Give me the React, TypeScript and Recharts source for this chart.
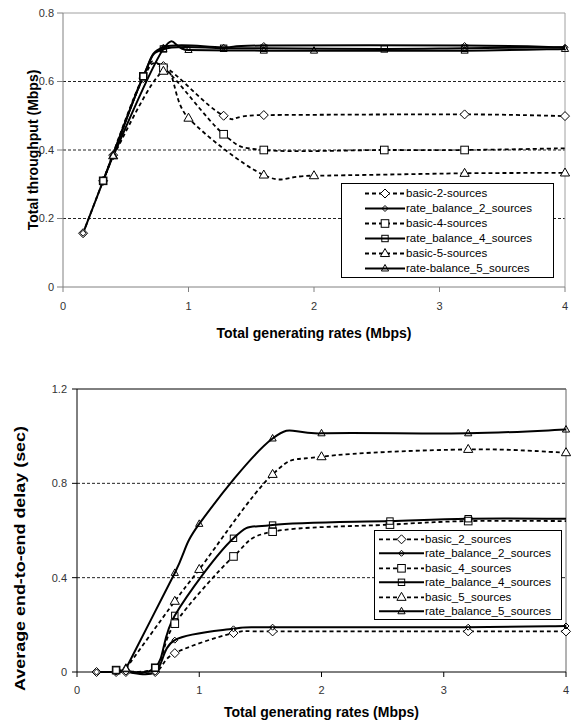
import React from 'react';
import { LineChart, Line, XAxis, YAxis, ReferenceLine, Legend } from 'recharts';

const FONT = '"Liberation Sans", Arial, Helvetica, sans-serif';

// ---------- data ----------
// total generating rates (Mbps) per number of sources
const x2 = [0.16, 0.32, 0.4, 0.64, 0.8, 1.28, 1.6, 3.2, 4.0];
const x4 = [0.32, 0.64, 0.8, 1.28, 1.6, 2.56, 3.2, 4.0];
const x5 = [0.4, 0.8, 1.0, 1.6, 2.0, 3.2, 4.0];

// Total throughput (Mbps)
const thrBasic2 = [0.157, 0.31, 0.385, 0.61, 0.645, 0.5, 0.502, 0.504, 0.499];
const thrRate2 = [0.157, 0.31, 0.385, 0.615, 0.7, 0.7, 0.705, 0.705, 0.7];
const thrBasic4 = [0.31, 0.615, 0.64, 0.446, 0.4, 0.4, 0.4, 0.405];
const thrRate4 = [0.31, 0.615, 0.695, 0.697, 0.697, 0.695, 0.697, 0.7];
const thrBasic5 = [0.383, 0.63, 0.493, 0.327, 0.325, 0.332, 0.333];
const thrRate5 = [0.383, 0.695, 0.692, 0.69, 0.69, 0.69, 0.695];

// Average end-to-end delay (sec)
const dlyBasic2 = [0.0, 0.0, 0.0, 0.0, 0.08, 0.165, 0.172, 0.172, 0.172];
const dlyRate2 = [0.0, 0.0, 0.0, 0.0, 0.135, 0.183, 0.19, 0.19, 0.195];
const dlyBasic4 = [0.008, 0.018, 0.205, 0.49, 0.595, 0.625, 0.64, 0.64];
const dlyRate4 = [0.008, 0.018, 0.24, 0.567, 0.623, 0.64, 0.65, 0.65];
const dlyBasic5 = [0.014, 0.3, 0.435, 0.838, 0.913, 0.944, 0.93];
const dlyRate5 = [0.014, 0.42, 0.628, 0.99, 1.012, 1.012, 1.028];

const xTicks = [0, 1, 2, 3, 4];
const thrTicks = [0, 0.2, 0.4, 0.6, 0.8];
const thrGrid = [0.2, 0.4, 0.6];
const dlyTicks = [0, 0.4, 0.8, 1.2];
const dlyGrid = [0.4, 0.8];

const topNames = [
  'basic-2-sources',
  'rate_balance_2_sources',
  'basic-4-sources',
  'rate_balance_4_sources',
  'basic-5-sources',
  'rate-balance_5_sources',
];
const bottomNames = [
  'basic_2_sources',
  'rate_balance_2_sources',
  'basic_4_sources',
  'rate_balance_4_sources',
  'basic_5_sources',
  'rate_balance_5_sources',
];

type Shape = 'diamond' | 'square' | 'triangle';
interface Series {
  name: string;
  data: { x: number; y: number }[];
  shape: Shape;
  basic: boolean;
  unmarkedLast: boolean;
}

const zip = (xs: number[], ys: number[]) => xs.map((x, i) => ({ x, y: ys[i] }));

const shapes: Shape[] = ['diamond', 'diamond', 'square', 'square', 'triangle', 'triangle'];
const buildSeries = (names: string[], ys: number[][]): Series[] => {
  const xsList = [x2, x2, x4, x4, x5, x5];
  return names.map((name, i) => ({
    name,
    data: zip(xsList[i], ys[i]),
    shape: shapes[i],
    basic: i % 2 === 0,
    unmarkedLast: i === 2 || i === 3,
  }));
};

const topSeries = buildSeries(topNames, [thrBasic2, thrRate2, thrBasic4, thrRate4, thrBasic5, thrRate5]);
const bottomSeries = buildSeries(bottomNames, [dlyBasic2, dlyRate2, dlyBasic4, dlyRate4, dlyBasic5, dlyRate5]);

// ---------- Excel-like smoothing curve (Catmull-Rom as Bezier) ----------
const excelSmooth: any = (context: any) => {
  let pts: [number, number][] = [];
  return {
    areaStart() {},
    areaEnd() {},
    lineStart() {
      pts = [];
    },
    lineEnd() {
      const n = pts.length;
      if (!n) return;
      context.moveTo(pts[0][0], pts[0][1]);
      if (n === 1) {
        context.lineTo(pts[0][0], pts[0][1]);
        return;
      }
      for (let i = 0; i < n - 1; i++) {
        const p0 = pts[i === 0 ? 0 : i - 1];
        const p1 = pts[i];
        const p2 = pts[i + 1];
        const p3 = pts[i + 2 < n ? i + 2 : n - 1];
        context.bezierCurveTo(
          p1[0] + (p2[0] - p0[0]) / 6,
          p1[1] + (p2[1] - p0[1]) / 6,
          p2[0] - (p3[0] - p1[0]) / 6,
          p2[1] - (p3[1] - p1[1]) / 6,
          p2[0],
          p2[1]
        );
      }
    },
    point(x: number, y: number) {
      pts.push([+x, +y]);
    },
  };
};

// ---------- markers ----------
function MarkerShape({ shape, cx, cy, big }: { shape: Shape; cx: number; cy: number; big: boolean }) {
  const fill = big ? '#fff' : 'none';
  const common = { fill, stroke: '#000', strokeWidth: 1 };
  if (shape === 'diamond') {
    const r = big ? 4.5 : 3;
    return <polygon points={`${cx},${cy - r} ${cx + r},${cy} ${cx},${cy + r} ${cx - r},${cy}`} {...common} />;
  }
  if (shape === 'square') {
    const h = big ? 3.8 : 3.2;
    return <rect x={cx - h} y={cy - h} width={2 * h} height={2 * h} {...common} />;
  }
  const w = big ? 4.6 : 3.6;
  const hgt = big ? 8 : 6.5;
  return (
    <polygon
      points={`${cx},${cy - hgt * 0.62} ${cx + w},${cy + hgt * 0.38} ${cx - w},${cy + hgt * 0.38}`}
      {...common}
    />
  );
}

const makeDot = (s: Series) => (props: any) => {
  const { cx, cy, index } = props;
  const key = `dot-${s.name}-${index}`;
  if (cx == null || cy == null || (s.unmarkedLast && index === s.data.length - 1)) {
    return <g key={key} />;
  }
  return (
    <g key={key}>
      <MarkerShape shape={s.shape} cx={cx} cy={cy} big={s.basic} />
    </g>
  );
};

const DASH = '4 3';

// ---------- legend ----------
function LegendBox({
  series,
  width,
  height,
  rowH,
  padTop,
  symLeft,
  symW,
  textGap,
}: {
  series: Series[];
  width: number;
  height: number;
  rowH: number;
  padTop: number;
  symLeft: number;
  symW: number;
  textGap: number;
}) {
  return (
    <div
      style={{
        width,
        height,
        boxSizing: 'border-box',
        border: '1px solid #000',
        background: '#fff',
        paddingTop: padTop,
        fontFamily: FONT,
        fontSize: 11.5,
        color: '#000',
      }}
    >
      {series.map((s) => (
        <div key={s.name} style={{ height: rowH, display: 'flex', alignItems: 'center', whiteSpace: 'nowrap' }}>
          <svg width={symW} height={rowH} style={{ marginLeft: symLeft, marginRight: textGap, flex: 'none' }}>
            <line
              x1={0}
              x2={symW}
              y1={rowH / 2}
              y2={rowH / 2}
              stroke="#000"
              strokeWidth={s.basic ? 1.8 : 2}
              strokeDasharray={s.basic ? DASH : undefined}
            />
            <MarkerShape shape={s.shape} cx={symW / 2} cy={rowH / 2} big={s.basic} />
          </svg>
          <span style={{ lineHeight: `${rowH}px` }}>{s.name}</span>
        </div>
      ))}
    </div>
  );
}

const tickStyle = { fill: '#333', fontSize: 11, fontFamily: FONT };
const titleStyle: React.CSSProperties = { fontFamily: FONT, fontSize: 14, fontWeight: 'bold', fill: '#000' };

function renderLines(series: Series[]) {
  return series.map((s) => (
    <Line
      key={s.name}
      data={s.data}
      dataKey="y"
      name={s.name}
      type={excelSmooth}
      stroke="#000"
      strokeWidth={s.basic ? 1.8 : 2}
      strokeDasharray={s.basic ? DASH : undefined}
      dot={makeDot(s)}
      activeDot={false}
      isAnimationActive={false}
    />
  ));
}

function TopChart() {
  return (
    <LineChart width={573} height={345} margin={{ top: 13, right: 8, bottom: 0, left: 0 }}>
      <XAxis
        type="number"
        dataKey="x"
        domain={[0, 4]}
        ticks={xTicks}
        height={58}
        stroke="#808080"
        tickSize={5}
        tickMargin={10}
        tick={tickStyle}
        label={{
          content: (p: any) => {
            const vb = p.viewBox || {};
            return (
              <text x={vb.x + vb.width / 2} y={vb.y + 51} textAnchor="middle" style={titleStyle}>
                Total generating rates (Mbps)
              </text>
            );
          },
        }}
      />
      <YAxis
        type="number"
        domain={[0, 0.8]}
        ticks={thrTicks}
        width={63}
        stroke="#808080"
        tickSize={6}
        tickMargin={3}
        tick={tickStyle}
        label={{
          content: (p: any) => {
            const vb = p.viewBox || {};
            const cy = vb.y + vb.height / 2;
            return (
              <text x={38} y={cy} transform={`rotate(-90 38 ${cy})`} textAnchor="middle" style={titleStyle}>
                Total throughput (Mbps)
              </text>
            );
          },
        }}
      />
      {thrGrid.map((v) => (
        <ReferenceLine key={v} y={v} stroke="#222" strokeWidth={1} strokeDasharray="3 2" />
      ))}
      <ReferenceLine y={0.8} stroke="#a0a0a0" strokeWidth={1} />
      <ReferenceLine x={4} stroke="#a0a0a0" strokeWidth={1} />
      {renderLines(topSeries)}
      <Legend
        layout="horizontal"
        align="center"
        verticalAlign="middle"
        wrapperStyle={{ left: 341, top: 183, width: 213, height: 95 }}
        content={() => (
          <LegendBox
            series={topSeries}
            width={213}
            height={95}
            rowH={15}
            padTop={2}
            symLeft={23}
            symW={40}
            textGap={1}
          />
        )}
      />
    </LineChart>
  );
}

function BottomChart() {
  return (
    <LineChart width={573} height={377} margin={{ top: 44, right: 7, bottom: 0, left: 0 }}>
      <XAxis
        type="number"
        dataKey="x"
        domain={[0, 4]}
        ticks={xTicks}
        height={50}
        stroke="#000"
        tickSize={5}
        tickMargin={9}
        tick={tickStyle}
        label={{
          content: (p: any) => {
            const vb = p.viewBox || {};
            return (
              <text x={vb.x + vb.width / 2} y={vb.y + 45} textAnchor="middle" style={titleStyle}>
                Total generating rates (Mbps)
              </text>
            );
          },
        }}
      />
      <YAxis
        type="number"
        domain={[0, 1.2]}
        ticks={dlyTicks}
        width={77}
        stroke="#000"
        tickSize={5}
        tickMargin={5}
        tick={tickStyle}
        label={{
          content: (p: any) => {
            const vb = p.viewBox || {};
            const cy = vb.y + vb.height / 2 + 28;
            return (
              <text
                x={0}
                y={0}
                transform={`translate(25 ${cy}) rotate(-90) scale(1.28 1)`}
                textAnchor="middle"
                style={titleStyle}
              >
                Average end-to-end delay (sec)
              </text>
            );
          },
        }}
      />
      {dlyGrid.map((v) => (
        <ReferenceLine key={v} y={v} stroke="#222" strokeWidth={1} strokeDasharray="3 2" />
      ))}
      <ReferenceLine y={1.2} stroke="#000" strokeWidth={1} />
      <ReferenceLine x={4} stroke="#666" strokeWidth={1} />
      {renderLines(bottomSeries)}
      <Legend
        layout="horizontal"
        align="center"
        verticalAlign="middle"
        wrapperStyle={{ left: 374, top: 185, width: 188, height: 90 }}
        content={() => (
          <LegendBox
            series={bottomSeries}
            width={188}
            height={90}
            rowH={14.6}
            padTop={0.5}
            symLeft={4}
            symW={45}
            textGap={1}
          />
        )}
      />
    </LineChart>
  );
}

export default function App() {
  return (
    <div style={{ position: 'absolute', left: 0, top: 0, width: 573, height: 722, background: '#fff' }}>
      <div style={{ position: 'absolute', left: 0, top: 0 }}>
        <TopChart />
      </div>
      <div style={{ position: 'absolute', left: 0, top: 345 }}>
        <BottomChart />
      </div>
    </div>
  );
}
